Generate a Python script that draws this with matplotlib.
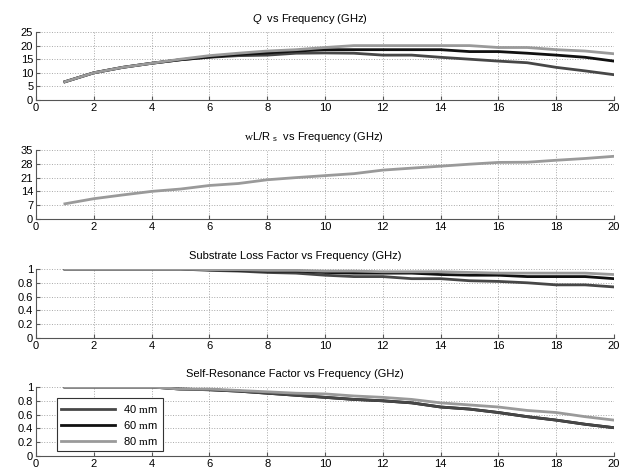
import numpy as np
import matplotlib
matplotlib.use("Agg")
import matplotlib.pyplot as plt

plt.rcParams['font.family'] = ['Liberation Sans', 'DejaVu Sans']
plt.rcParams['mathtext.fontset'] = 'custom'
plt.rcParams['mathtext.rm'] = 'Liberation Serif'
plt.rcParams['mathtext.it'] = 'Liberation Sans:italic'
plt.rcParams['mathtext.sf'] = 'Liberation Sans'

freq = np.arange(1, 21)
labels = ["40 $\\mathrm{m}$m", "60 $\\mathrm{m}$m", "80 $\\mathrm{m}$m"]
colors = ["#474747", "#111111", "#9a9a9a"]

q_40 = [6.7, 10, 12, 13.5, 14.8, 15.7, 16.3, 16.5, 17.2, 17.3, 17.2, 16.5, 16.5, 15.7, 15, 14.3, 13.7, 12, 10.7, 9.3]
q_60 = [6.7, 10, 12, 13.5, 14.8, 15.8, 16.7, 17.3, 18, 18.5, 18.5, 18.5, 18.5, 18.5, 17.8, 17.8, 17.2, 16.5, 15.7, 14.3]
q_80 = [6.7, 10, 12, 13.5, 15, 16.3, 17.2, 18, 18.5, 19.3, 20, 20, 20, 20, 20, 19.3, 19.3, 18.5, 18, 17]

wl_rs = [7.7, 10.3, 12.2, 14, 15.2, 17, 18, 19.9, 21, 22, 23, 24.8, 25.8, 26.8, 27.8, 28.7, 28.8, 29.8, 30.7, 31.8]

sub_40 = [1, 1, 1, 1, 1, 0.98, 0.97, 0.95, 0.94, 0.91, 0.89, 0.89, 0.86, 0.86, 0.83, 0.82, 0.80, 0.77, 0.77, 0.74]
sub_60 = [1, 1, 1, 1, 1, 0.99, 0.98, 0.97, 0.97, 0.95, 0.94, 0.94, 0.94, 0.92, 0.91, 0.91, 0.89, 0.89, 0.89, 0.86]
sub_80 = [1, 1, 1, 1, 1, 0.99, 0.99, 0.98, 0.98, 0.97, 0.97, 0.96, 0.96, 0.96, 0.95, 0.94, 0.94, 0.94, 0.94, 0.92]

sr_40 = [1, 1, 1, 1, 0.97, 0.96, 0.94, 0.91, 0.88, 0.85, 0.82, 0.80, 0.77, 0.71, 0.68, 0.63, 0.57, 0.52, 0.46, 0.41]
sr_60 = sr_40
sr_80 = [1, 1, 1, 1, 0.97, 0.97, 0.95, 0.93, 0.91, 0.90, 0.87, 0.85, 0.82, 0.77, 0.74, 0.71, 0.66, 0.63, 0.57, 0.52]

fig = plt.figure(figsize=(6.32, 4.71), dpi=100)
W = 632.0
H = 471.0
LEFT = 36.0
RIGHT = 614.0

def make_ax(top, bottom):
    return fig.add_axes([LEFT / W, 1 - bottom / H, (RIGHT - LEFT) / W, (bottom - top) / H])

def style(ax, title, yticks, tx):
    ax.set_xlim(0, 20)
    ax.set_xticks(np.arange(0, 21, 2))
    ax.set_ylim(yticks[0], yticks[-1])
    ax.set_yticks(yticks)
    ax.grid(True, linestyle=':', color='#a8a8a8', lw=0.7)
    ax.spines['top'].set_visible(False)
    ax.spines['right'].set_visible(False)
    ax.spines['left'].set_color('#555555')
    ax.spines['bottom'].set_color('#555555')
    ax.tick_params(labelsize=8, length=3, direction='in', color='#555555', pad=2)
    ax.set_title(title, fontsize=8, pad=7, x=tx)

ax1 = make_ax(32, 100)
ax1.plot(freq, q_40, color=colors[0], lw=2)
ax1.plot(freq, q_60, color=colors[1], lw=2)
ax1.plot(freq, q_80, color=colors[2], lw=2)
style(ax1, "$\\it{Q}$  vs Frequency (GHz)", [0, 5, 10, 15, 20, 25], 0.474)

ax2 = make_ax(150, 219)
ax2.plot(freq, wl_rs, color=colors[2], lw=2)
style(ax2, "$\\mathrm{w}$L/R $_\\mathsf{s}$  vs Frequency (GHz)", [0, 7, 14, 21, 28, 35], 0.481)

ax3 = make_ax(269, 338)
ax3.plot(freq, sub_40, color=colors[0], lw=2)
ax3.plot(freq, sub_60, color=colors[1], lw=2)
ax3.plot(freq, sub_80, color=colors[2], lw=2)
style(ax3, "Substrate Loss Factor vs Frequency (GHz)", [0, 0.2, 0.4, 0.6, 0.8, 1], 0.448)
ax3.set_yticklabels(["0", "0.2", "0.4", "0.6", "0.8", "1"])

ax4 = make_ax(387, 456)
ax4.plot(freq, sr_40, color=colors[0], lw=2, label=labels[0], zorder=3)
ax4.plot(freq, sr_60, color=colors[1], lw=2, label=labels[1], zorder=2)
ax4.plot(freq, sr_80, color=colors[2], lw=2, label=labels[2], zorder=4)
style(ax4, "Self-Resonance Factor vs Frequency (GHz)", [0, 0.2, 0.4, 0.6, 0.8, 1], 0.448)
ax4.set_yticklabels(["0", "0.2", "0.4", "0.6", "0.8", "1"])
leg = ax4.legend(loc='lower left', bbox_to_anchor=(0.036, 0.072), borderaxespad=0,
                 fontsize=8, fancybox=False, edgecolor='#333333', framealpha=1,
                 handlelength=4.8, labelspacing=0.35, borderpad=0.4)
leg.get_frame().set_linewidth(0.8)

fig.savefig("out.png", dpi=100)
